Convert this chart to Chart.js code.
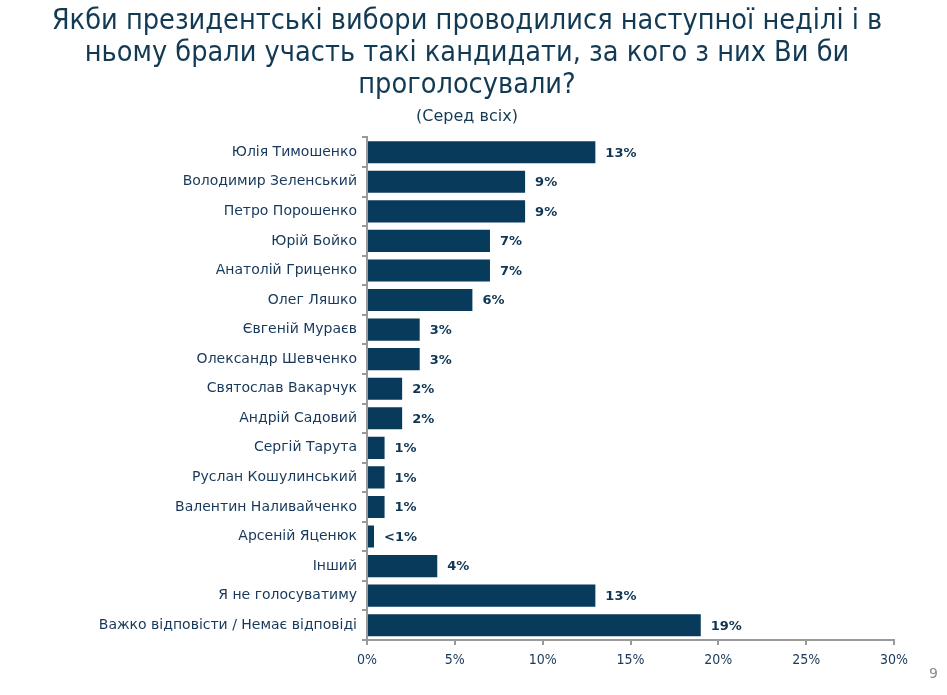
<!DOCTYPE html>
<html>
<head>
<meta charset="utf-8">
<script src="https://cdn.jsdelivr.net/npm/chart.js@4"></script>
<style>
  html, body { margin: 0; padding: 0; background: #fff; }
  #wrap { position: relative; width: 947px; height: 695px; }
  #pageNo { position: absolute; left: 929px; top: 665px; font: 14px "DejaVu Sans", sans-serif; color: #8a8a8a; }
</style>
</head>
<body>
<div id="wrap">
  <canvas id="chart" width="947" height="695"></canvas>
  <div id="pageNo">9</div>
</div>
<script>
const TITLE_LINES = [
  'Якби президентські вибори проводилися наступної неділі і в',
  'ньому брали участь такі кандидати, за кого з них Ви би',
  'проголосували?'
];
const SUBTITLE = '(Серед всіх)';

const candidates = [
  'Юлія Тимошенко', 'Володимир Зеленський', 'Петро Порошенко', 'Юрій Бойко',
  'Анатолій Гриценко', 'Олег Ляшко', 'Євгеній Мураєв', 'Олександр Шевченко',
  'Святослав Вакарчук', 'Андрій Садовий', 'Сергій Тарута', 'Руслан Кошулинський',
  'Валентин Наливайченко', 'Арсеній Яценюк', 'Інший', 'Я не голосуватиму',
  'Важко відповісти / Немає відповіді'
];
const shares = [13, 9, 9, 7, 7, 6, 3, 3, 2, 2, 1, 1, 1, 0.4, 4, 13, 19];
const shareLabels = ['13%', '9%', '9%', '7%', '7%', '6%', '3%', '3%', '2%', '2%',
  '1%', '1%', '1%', '<1%', '4%', '13%', '19%'];
const xTicks = [0, 5, 10, 15, 20, 25, 30];

const NAVY = '#073a5b';
const TEXT = '#17385a';
const AXIS = '#9a9a9a';

// writes the % label to the right of each bar
const valueLabels = {
  id: 'valueLabels',
  afterDatasetsDraw(chart) {
    const ctx = chart.ctx;
    const meta = chart.getDatasetMeta(0);
    ctx.save();
    ctx.font = 'bold 13px "DejaVu Sans", sans-serif';
    ctx.fillStyle = '#0e3553';
    ctx.textAlign = 'left';
    ctx.textBaseline = 'middle';
    meta.data.forEach((bar, i) => {
      ctx.fillText(shareLabels[i], bar.x + 10, bar.y + 1);
    });
    ctx.restore();
  }
};

new Chart(document.getElementById('chart'), {
  type: 'bar',
  data: {
    labels: candidates,
    datasets: [{
      data: shares,
      backgroundColor: NAVY,
      borderWidth: 0,
      barPercentage: 0.75,
      categoryPercentage: 1
    }]
  },
  plugins: [valueLabels],
  options: {
    indexAxis: 'y',
    responsive: false,
    animation: false,
    // left/right padding also centres the title around x≈467 like the slide
    layout: { padding: { left: 40, right: 53, top: 0, bottom: 0 } },
    plugins: {
      legend: { display: false },
      tooltip: { enabled: false },
      title: {
        display: true,
        text: TITLE_LINES,
        color: '#123a55',
        font: { family: '"DejaVu Sans Condensed", "Liberation Sans Narrow", sans-serif', size: 28.6, weight: 'normal', lineHeight: 1.11 },
        padding: { top: 6, bottom: 5 }
      },
      subtitle: {
        display: true,
        text: SUBTITLE,
        color: '#123a55',
        font: { family: '"DejaVu Sans", sans-serif', size: 16, lineHeight: 1.2 },
        padding: { top: 1, bottom: 11 }
      }
    },
    scales: {
      x: {
        type: 'linear',
        min: 0,
        max: 30,
        afterBuildTicks: (scale) => { scale.ticks = xTicks.map(v => ({ value: v })); },
        afterFit: (scale) => { scale.height = 55; },
        grid: { drawOnChartArea: false, color: AXIS, lineWidth: 2, tickLength: 5 },
        border: { color: AXIS, width: 2 },
        ticks: {
          color: TEXT,
          padding: 7,
          font: { family: '"DejaVu Sans Condensed", "DejaVu Sans", sans-serif', size: 14 },
          callback: (v) => v + '%'
        }
      },
      y: {
        afterFit: (scale) => { scale.width = 327; },
        grid: { offset: true, drawOnChartArea: false, color: AXIS, lineWidth: 2, tickLength: 5 },
        border: { color: AXIS, width: 2 },
        ticks: {
          color: TEXT,
          padding: 5,
          autoSkip: false,
          font: { family: '"DejaVu Sans", sans-serif', size: 14 }
        }
      }
    }
  }
});
</script>
</body>
</html>
